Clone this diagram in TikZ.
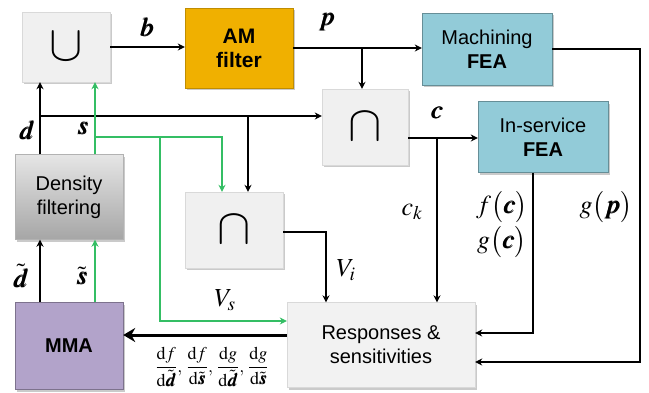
\documentclass[tikz,border=0pt]{standalone}
\usepackage{amsmath}
\usepackage{mathptmx}
\usepackage{bm}
\usepackage{fontspec}
\setmainfont{Liberation Sans}
\usetikzlibrary{positioning,arrows.meta,shadows,calc}
\definecolor{amorange}{RGB}{240,176,0}
\definecolor{feablue}{RGB}{146,203,216}
\definecolor{mmapurple}{RGB}{178,163,202}
\definecolor{sgreen}{RGB}{52,190,100}
\tikzset{
  shd/.style={drop shadow={shadow xshift=2pt, shadow yshift=-2pt, opacity=0.35, fill=black!60}},
  setop/.style={draw=black!15, fill=black!6, shd, minimum width=#1, font=\fontsize{50}{50}\selectfont},
  amf/.style={draw=amorange!80!black, fill=amorange, shd, font=\fontsize{21}{24}\selectfont\bfseries, align=center},
  fea/.style={draw=feablue!70!black, fill=feablue, shd, font=\fontsize{20}{24}\selectfont, align=center},
  filt/.style={draw=black!30, top color=black!10, bottom color=black!35, shd, font=\fontsize{20}{24}\selectfont, align=center},
  mma/.style={draw=mmapurple!70!black, fill=mmapurple, shd, font=\fontsize{20}{24}\selectfont\bfseries},
  resp/.style={draw=black!15, fill=black!5, shd, font=\fontsize{20}{24}\selectfont, align=center},
  lbl/.style={font=\fontsize{26}{30}\selectfont, inner sep=0pt},
  cf/.style={-{Stealth[length=7pt,width=7pt]}, line width=1.2pt},
  gf/.style={-{Stealth[length=7pt,width=7pt]}, line width=1.2pt, sgreen},
  big/.style={-{Stealth[length=12pt,width=14pt]}, line width=3pt}
}
\begin{document}
\begin{tikzpicture}[x=1pt,y=-1pt]
  \useasboundingbox (0,0) rectangle (649,392);
  % boxes
  \node[setop=88pt, minimum height=70pt, inner sep=0pt] (uni) at (66,47) {$\cup$};
  \node[amf, minimum width=108pt, minimum height=80pt] (amf) at (239,48) {AM\\filter};
  \node[fea, minimum width=130pt, minimum height=72pt] (mfea) at (487,49) {Machining\\\textbf{FEA}};
  \node[setop=86pt, minimum height=76pt, inner sep=0pt] (isec1) at (365,127) {$\cap$};
  \node[fea, minimum width=130pt, minimum height=71pt] (isfea) at (543,137) {In-service\\\textbf{FEA}};
  \node[filt, minimum width=108pt, minimum height=85pt] (dens) at (69,197) {Density\\filtering};
  \node[setop=98pt, minimum height=76pt, inner sep=0pt] (isec2) at (234,230) {$\cap$};
  \node[mma, minimum width=108pt, minimum height=87pt] (mma) at (69,346) {MMA};
  \node[resp, minimum width=188pt, minimum height=85pt] (resp) at (381,345) {Responses \&\\sensitivities};
  % branch points
  \coordinate (dx) at (40,116);
  \coordinate (dbr) at (248,116);
  \coordinate (sx) at (95,137);
  \coordinate (sbr) at (160,137);
  \coordinate (pbr) at (362,48);
  \coordinate (cbr) at (437,138);
  \coordinate (gx) at (640,49);
  % black flow
  \draw[cf] (uni.east) -- (uni.east -| amf.west);
  \draw[cf] (amf.east) -- (amf.east -| mfea.west);
  \draw[cf] (pbr) -- (isec1.north -| pbr);
  \draw[cf] (isec1.east |- cbr) -- (isfea.west |- cbr);
  \draw[cf] (cbr) -- (resp.north -| cbr);
  \draw[cf] ([xshift=-10pt]isfea.south) |- ([yshift=12pt]resp.east);
  \draw[cf] (mfea.east) -| ([yshift=-17pt]resp.east -| gx) -- ([yshift=-17pt]resp.east);
  \draw[cf] (dens.north -| dx) -- (uni.south -| dx);
  \draw[cf] (dx) -- (isec1.west |- dx);
  \draw[cf] (dbr) -- (isec2.north -| dbr);
  \draw[cf] ([yshift=-2pt]isec2.east) -| ([xshift=-55pt]resp.north);
  \draw[cf] (mma.north -| dx) -- (dens.south -| dx);
  \draw[big] ([yshift=10pt]resp.west) -- ([yshift=10pt]resp.west -| mma.east);
  % green flow
  \draw[gf] (dens.north -| sx) -- (uni.south -| sx);
  \draw[gf] (sx) -| ([xshift=-12pt]isec2.north);
  \draw[gf] (sbr) |- ([yshift=24pt]resp.west);
  \draw[gf] (mma.north -| sx) -- (dens.south -| sx);
  % labels
  \node[lbl] (lb) at (147,27) {$\bm{b}$};
  \node[lbl] (lp) at (327,22) {$\bm{p}$};
  \node[lbl] (lc) at (437,113) {$\bm{c}$};
  \node[lbl] (ld) at (27,130) {$\bm{d}$};
  \node[lbl] (ls) at (83,128) {$\bm{s}$};
  \node[lbl] (lck) at (412,212) {$c_k$};
  \node[lbl] (lfc) at (502,207) {$f\big(\bm{c}\big)$};
  \node[lbl] (lgc) at (502,242) {$g\big(\bm{c}\big)$};
  \node[lbl] (lgp) at (606,207) {$g\big(\bm{p}\big)$};
  \node[lbl] (lvi) at (346,270) {$V_i$};
  \node[lbl] (lvs) at (225,300) {$V_s$};
  \node[lbl] (ldt) at (21,276) {$\tilde{\bm{d}}$};
  \node[lbl] (lst) at (82,276) {$\tilde{\bm{s}}$};
  \node[lbl, font=\fontsize{18}{20}\selectfont] (lder) at (212,367)
    {$\dfrac{\mathrm{d}f}{\mathrm{d}\tilde{\bm{d}}},\,\dfrac{\mathrm{d}f}{\mathrm{d}\tilde{\bm{s}}},\,\dfrac{\mathrm{d}g}{\mathrm{d}\tilde{\bm{d}}},\,\dfrac{\mathrm{d}g}{\mathrm{d}\tilde{\bm{s}}}$};
\end{tikzpicture}
\end{document}
